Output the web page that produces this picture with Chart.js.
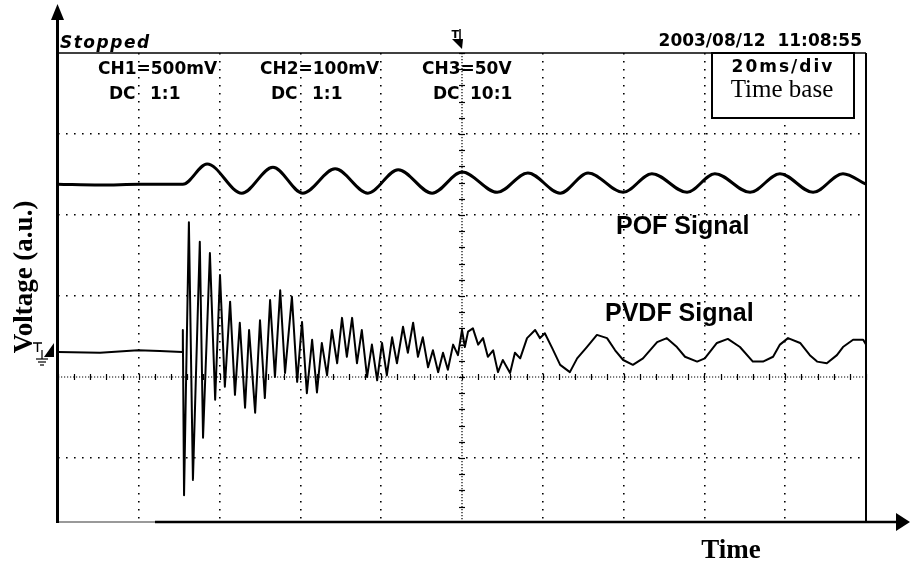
<!DOCTYPE html>
<html><head><meta charset="utf-8">
<script src="https://cdn.jsdelivr.net/npm/chart.js@4.4.0/dist/chart.umd.min.js"></script>
<style>html,body{margin:0;padding:0;background:#fff;overflow:hidden}canvas{display:block}</style>
</head><body>
<canvas id="c" width="910" height="565"></canvas>
<script>
// Time in ms (20 ms/div), voltage in screen divisions (0 = centre line)
const pofTime = [0, 10.4, 20.3, 30.9, 36.9, 45.5, 53.2, 60.6, 68.6, 76.7,
  84.2, 92.6, 100.0, 108.7, 116.3, 124.3, 131.2, 139.9, 147.0, 155.7,
  162.6, 171.3, 178.7, 186.9, 194.3, 200];
const pofVolt = [2.38, 2.37, 2.38, 2.38, 2.63, 2.27, 2.59, 2.27, 2.57, 2.27,
  2.56, 2.27, 2.53, 2.28, 2.52, 2.27, 2.52, 2.28, 2.51, 2.28,
  2.51, 2.28, 2.51, 2.28, 2.51, 2.38];

const pvdfTime = [0, 10.4, 19.8, 25.2, 30.7, 30.9, 31.2, 32.4, 33.4, 35.1,
  35.9, 37.6, 38.9, 40.1, 41.3, 42.6, 43.8, 45.0, 46.3, 47.3,
  48.8, 50.0, 51.2, 52.5, 53.7, 55.0, 56.2, 57.9, 59.2, 60.4,
  61.6, 62.9, 64.1, 65.3, 66.6, 67.8, 69.1, 70.3, 71.5, 72.8,
  74.0, 75.2, 76.5, 77.7, 79.0, 80.2, 81.4, 82.7, 83.9, 85.4,
  86.6, 87.9, 89.1, 90.3, 91.6, 92.8, 94.1, 95.3, 96.5, 97.8,
  99.0, 100.0, 100.7, 101.5, 102.7, 104.0, 105.2, 106.4, 107.7, 108.9,
  110.1, 111.9, 113.1, 114.4, 116.1, 118.1, 119.3, 120.5, 122.3, 124.3,
  126.7, 128.5, 130.9, 133.4, 135.9, 137.9, 139.9, 142.3, 144.8, 148.3,
  150.7, 153.2, 155.2, 158.2, 160.1, 163.1, 165.8, 168.8, 172.0, 174.5,
  177.0, 178.7, 180.7, 183.7, 186.1, 187.9, 190.3, 192.8, 194.3, 196.8,
  199.3, 200];
const pvdfVolt = [0.31, 0.30, 0.33, 0.32, 0.31, 0.58, -1.46, 1.91, -1.27, 1.67,
  -0.75, 1.53, -0.28, 1.26, -0.12, 0.93, -0.22, 0.67, -0.38, 0.58,
  -0.44, 0.70, -0.26, 0.95, 0.00, 1.07, 0.05, 0.99, -0.06, 0.68,
  -0.20, 0.46, -0.19, 0.42, 0.02, 0.58, 0.17, 0.73, 0.25, 0.73,
  0.17, 0.58, 0.00, 0.40, -0.04, 0.42, 0.02, 0.49, 0.17, 0.62,
  0.30, 0.67, 0.25, 0.49, 0.12, 0.33, 0.06, 0.30, 0.09, 0.40,
  0.27, 0.58, 0.37, 0.56, 0.60, 0.40, 0.48, 0.25, 0.33, 0.06,
  0.21, 0.05, 0.30, 0.23, 0.48, 0.58, 0.48, 0.54, 0.36, 0.15,
  0.06, 0.23, 0.37, 0.52, 0.48, 0.33, 0.21, 0.15, 0.23, 0.43,
  0.48, 0.37, 0.25, 0.19, 0.23, 0.42, 0.47, 0.37, 0.19, 0.19,
  0.25, 0.40, 0.48, 0.42, 0.27, 0.19, 0.17, 0.27, 0.37, 0.46,
  0.46, 0.40];

const gridTimes = [20, 40, 60, 80, 120, 140, 160, 180];
const gridVolts = [-1, 1, 2, 3];
const triggerTime = 100;
const zeroVolt = 0;
const minorTimeStep = 4;
const minorVoltStep = 0.2;

const channelLabels = ['CH1=500mV', 'CH2=100mV', 'CH3=50V'];
const couplingLabels = ['DC', 'DC', 'DC'];
const ratioLabels = ['1:1', '1:1', '10:1'];
const statusLabel = 'Stopped';
const dateLabel = '2003/08/12  11:08:55';
const timebaseLabel = '20ms/div';
const timebaseTitle = 'Time base';
const seriesNames = ['POF Signal', 'PVDF Signal'];
const yTitle = 'Voltage (a.u.)';
const xTitle = 'Time';

const decorUnder = {
  id: 'decorUnder',
  beforeDatasetsDraw(chart) {
    const {ctx, chartArea: a, scales: {x, y}} = chart;
    const cx = x.getPixelForValue(triggerTime), cy = y.getPixelForValue(zeroVolt);
    ctx.save();
    ctx.strokeStyle = '#000';
    ctx.lineWidth = 1.2;
    ctx.setLineDash([1.2, 1.8]);
    ctx.beginPath(); ctx.moveTo(a.left, cy); ctx.lineTo(a.right, cy); ctx.stroke();
    ctx.beginPath(); ctx.moveTo(cx, a.top); ctx.lineTo(cx, a.bottom); ctx.stroke();
    ctx.setLineDash([]);
    ctx.lineWidth = 1.2;
    for (let t = x.min; t <= x.max + 1e-6; t += minorTimeStep) {
      const px = Math.round(x.getPixelForValue(t)) + 0.5;
      ctx.beginPath(); ctx.moveTo(px, cy - 3); ctx.lineTo(px, cy + 3); ctx.stroke();
    }
    for (let v = zeroVolt; v <= y.max + 1e-6; v += minorVoltStep) {
      const py = Math.round(y.getPixelForValue(v)) + 0.5;
      ctx.beginPath(); ctx.moveTo(cx - 3, py); ctx.lineTo(cx + 3, py); ctx.stroke();
    }
    for (let v = zeroVolt - minorVoltStep; v >= y.min - 1e-6; v -= minorVoltStep) {
      const py = Math.round(y.getPixelForValue(v)) + 0.5;
      ctx.beginPath(); ctx.moveTo(cx - 3, py); ctx.lineTo(cx + 3, py); ctx.stroke();
    }
    ctx.restore();
  }
};

const decorOver = {
  id: 'decorOver',
  afterDraw(chart) {
    const {ctx, chartArea: a, scales: {x, y}} = chart;
    const L = a.left, R = a.right, T = a.top, B = a.bottom;
    ctx.save();
    ctx.strokeStyle = '#000';
    ctx.fillStyle = '#000';
    const seg = (x1, y1, x2, y2, w) => { ctx.lineWidth = w; ctx.beginPath(); ctx.moveTo(x1, y1); ctx.lineTo(x2, y2); ctx.stroke(); };
    // frame
    seg(L, T, R, T, 1.5);
    seg(R, T, R, B, 2);
    ctx.strokeStyle = '#777';
    seg(L, B, L + 98, B, 1.5);
    ctx.strokeStyle = '#000';
    seg(L + 97, B, 899, B, 2.5);
    seg(L - 0.5, 16, L - 0.5, B + 1, 3);
    // arrowheads
    ctx.beginPath(); ctx.moveTo(L - 0.5, 4); ctx.lineTo(L - 7, 20); ctx.lineTo(L + 6, 20); ctx.closePath(); ctx.fill();
    ctx.beginPath(); ctx.moveTo(910, B); ctx.lineTo(896, B - 9); ctx.lineTo(896, B + 9); ctx.closePath(); ctx.fill();

    // time base box
    ctx.fillStyle = '#fff';
    ctx.fillRect(712, T, 142, 65);
    ctx.strokeStyle = '#000';
    ctx.lineWidth = 2;
    ctx.strokeRect(712, T, 142, 65);
    ctx.fillStyle = '#000';

    // header texts
    ctx.textBaseline = 'alphabetic';
    ctx.textAlign = 'left';
    ctx.font = 'italic bold 17px "DejaVu Sans"';
    ctx.letterSpacing = '1.5px';
    ctx.fillText(statusLabel, L + 2, 48);
    ctx.letterSpacing = '0px';
    ctx.font = 'bold 17px "DejaVu Sans"';
    ctx.textAlign = 'right';
    ctx.fillText(dateLabel, 862, 46);
    ctx.textAlign = 'left';
    const chX = [98, 260, 422];
    channelLabels.forEach((s, i) => {
      ctx.fillText(s, chX[i], 74);
      ctx.fillText(couplingLabels[i], chX[i] + 11, 99);
      ctx.fillText(ratioLabels[i], chX[i] + (i === 2 ? 48 : 52), 99);
    });
    ctx.textAlign = 'center';
    ctx.letterSpacing = '2px';
    ctx.fillText(timebaseLabel, 783, 72);
    ctx.letterSpacing = '0px';
    ctx.font = '25px "Liberation Serif"';
    ctx.fillText(timebaseTitle, 782, 97);

    // trigger marker
    const tx = x.getPixelForValue(triggerTime);
    ctx.font = 'bold 11px "DejaVu Sans"';
    ctx.textAlign = 'right';
    ctx.fillText('T', tx - 3, 38);
    seg(tx - 2, 29, tx - 2, 42, 1.5);
    ctx.beginPath(); ctx.moveTo(tx - 10, 39); ctx.lineTo(tx + 1, 39); ctx.lineTo(tx, 49); ctx.closePath(); ctx.fill();

    // channel ground marker
    ctx.lineWidth = 1.5;
    seg(33, 343, 42, 343, 1.5);
    seg(37.5, 343, 37.5, 352, 1.5);
    ctx.beginPath(); ctx.moveTo(54, 343); ctx.lineTo(54, 357); ctx.lineTo(44, 357); ctx.closePath(); ctx.fill();
    seg(42, 350, 42, 359, 1.2);
    seg(36, 359, 48, 359, 1.2);
    seg(38, 362, 46, 362, 1.2);
    seg(40, 365, 44, 365, 1.2);

    // series labels
    ctx.textAlign = 'left';
    ctx.font = 'bold 25px "Liberation Sans"';
    ctx.fillText(seriesNames[0], 616, 234);
    ctx.fillText(seriesNames[1], 605, 321);

    // axis titles
    ctx.font = 'bold 27px "Liberation Serif"';
    ctx.textAlign = 'center';
    ctx.fillText(xTitle, 731, 558);
    ctx.save();
    ctx.translate(32, 277);
    ctx.rotate(-Math.PI / 2);
    ctx.fillText(yTitle, 0, 0);
    ctx.restore();
    ctx.restore();
  }
};

new Chart(document.getElementById('c'), {
  type: 'line',
  data: {
    datasets: [
      { label: seriesNames[0], data: pofTime.map((t, i) => ({x: t, y: pofVolt[i]})),
        borderColor: '#000', borderWidth: 3, pointRadius: 0, cubicInterpolationMode: 'monotone', fill: false },
      { label: seriesNames[1], data: pvdfTime.map((t, i) => ({x: t, y: pvdfVolt[i]})),
        borderColor: '#000', borderWidth: 2, pointRadius: 0, tension: 0, fill: false, borderJoinStyle: 'round' }
    ]
  },
  options: {
    responsive: false, animation: false, devicePixelRatio: 1,
    layout: {padding: {left: 58, top: 53, right: 44, bottom: 43}},
    plugins: {legend: {display: false}, tooltip: {enabled: false}},
    scales: {
      x: {type: 'linear', min: 0, max: 200,
        afterBuildTicks: s => { s.ticks = gridTimes.map(v => ({value: v})); },
        ticks: {display: false},
        grid: {color: '#000', lineWidth: 1.6, drawTicks: false},
        border: {display: false, dash: [1.6, 6.4]}},
      y: {type: 'linear', min: -1.79, max: 4,
        afterBuildTicks: s => { s.ticks = gridVolts.map(v => ({value: v})); },
        ticks: {display: false},
        grid: {color: '#000', lineWidth: 1.6, drawTicks: false},
        border: {display: false, dash: [1.6, 6.4]}}
    }
  },
  plugins: [decorUnder, decorOver]
});
</script>
</body></html>
